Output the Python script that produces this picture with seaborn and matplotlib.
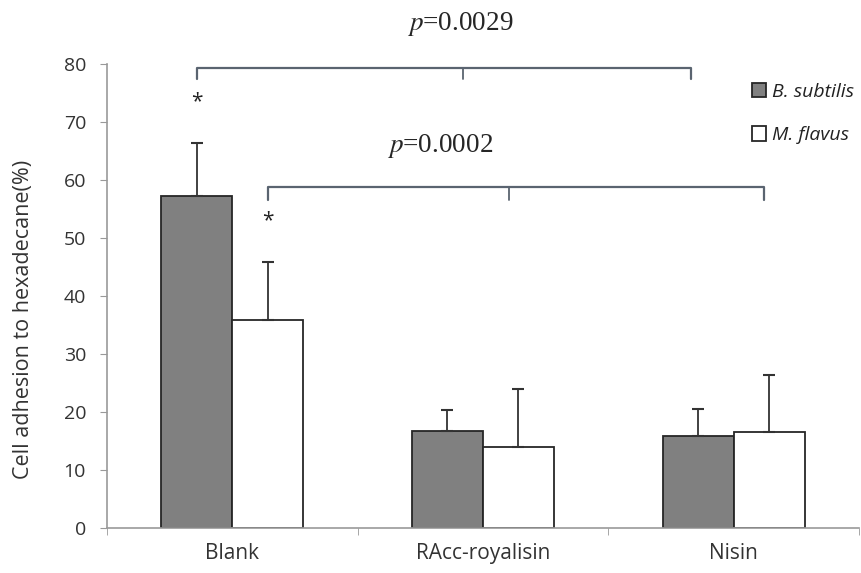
import matplotlib
matplotlib.use("Agg")
import matplotlib.pyplot as plt
import seaborn as sns
import pandas as pd
import numpy as np

categories = ["Blank", "RAcc-royalisin", "Nisin"]
series = ["B. subtilis", "M. flavus"]
b_subtilis = [57.3, 16.7, 15.9]
m_flavus = [35.9, 14.0, 16.5]
b_subtilis_err = [9.1, 3.6, 4.7]
m_flavus_err = [10.0, 10.0, 9.9]
y_ticks = [0, 10, 20, 30, 40, 50, 60, 70, 80]
p_labels = ["0.0029", "0.0002"]

df = pd.DataFrame({
    "cat": categories * 2,
    "series": [series[0]] * 3 + [series[1]] * 3,
    "value": b_subtilis + m_flavus,
})

sns.set_style("white")
plt.rcParams["font.family"] = ["Open Sans", "DejaVu Sans"]

fig = plt.figure(figsize=(8.62, 5.73), dpi=100)
ax = fig.add_axes([0.124, 0.0785, 0.8725, 0.8095])

sns.barplot(data=df, x="cat", y="value", hue="series", order=categories,
            hue_order=series, palette=["#808080", "#ffffff"], width=0.567,
            gap=0, errorbar=None, edgecolor="#262626", linewidth=1.3, ax=ax,
            legend=True)

errs = [b_subtilis_err, m_flavus_err]
vals = [b_subtilis, m_flavus]
for cont, e, v in zip(ax.containers, errs, vals):
    xs = [p.get_x() + p.get_width() / 2 for p in cont.patches]
    ax.errorbar(xs, v, yerr=[np.zeros(len(e)), e], fmt="none",
                ecolor="#333333", elinewidth=1.3, capsize=4, capthick=1.5,
                zorder=3)

ax.set_xlim(-0.5, 2.5)
ax.set_ylim(0, 80)
ax.set_yticks(y_ticks)
ax.tick_params(axis="y", labelsize=14, labelcolor="#333333", length=5,
               color="#999999", direction="out", left=True, pad=10)
ax.set_xticks(range(3))
ax.set_xticklabels(categories)
ax.tick_params(axis="x", which="major", length=0, labelsize=15,
               labelcolor="#333333", pad=11)
ax.set_xticks([-0.5, 0.5, 1.5, 2.5], minor=True)
ax.tick_params(axis="x", which="minor", length=5, color="#999999",
               direction="out", bottom=True)
ax.set_xlabel("")
ax.set_ylabel("Cell adhesion to hexadecane(%)", fontsize=15.5, color="#333333")
ax.yaxis.set_label_coords(-0.097, 0.449)
for s in ["top", "right"]:
    ax.spines[s].set_visible(False)
for s in ["left", "bottom"]:
    ax.spines[s].set_color("#999999")
    ax.spines[s].set_linewidth(1.2)

# significance brackets
bcol = "#5a6470"
def bracket(x0, x1, xm, y, drop, label, tx, ty):
    ax.plot([x0, x0, x1, x1], [y - drop, y, y, y - drop], color=bcol,
            lw=1.6, clip_on=False, zorder=4)
    ax.plot([xm, xm], [y, y - drop], color=bcol, lw=1.3, clip_on=False)
    ax.text(tx, ty, "$\\it{p}$=" + label,
            ha="center", va="center", fontsize=19.5,
            family="Liberation Serif", math_fontfamily="stix", clip_on=False)

bracket(-0.14, 1.83, 0.92, 79.3, 1.9, p_labels[0], 0.91, 87.0)
bracket(0.144, 2.12, 1.105, 58.8, 2.2, p_labels[1], 0.83, 65.9)

# asterisks above Blank bars
for cont, yy in zip(ax.containers, [73.6, 53.0]):
    p = cont.patches[0]
    ax.text(p.get_x() + p.get_width() / 2, yy, "*", ha="center", va="center",
            fontsize=15, color="#222222")

leg = ax.legend(loc="upper left", bbox_to_anchor=(0.847, 0.976), frameon=False,
                handlelength=0.75, handleheight=0.75, handletextpad=0.3,
                labelspacing=1.3, fontsize=14, borderaxespad=0)
for t in leg.get_texts():
    t.set_fontstyle("italic")
    t.set_color("#222222")

fig.savefig("out.png", dpi=100)
